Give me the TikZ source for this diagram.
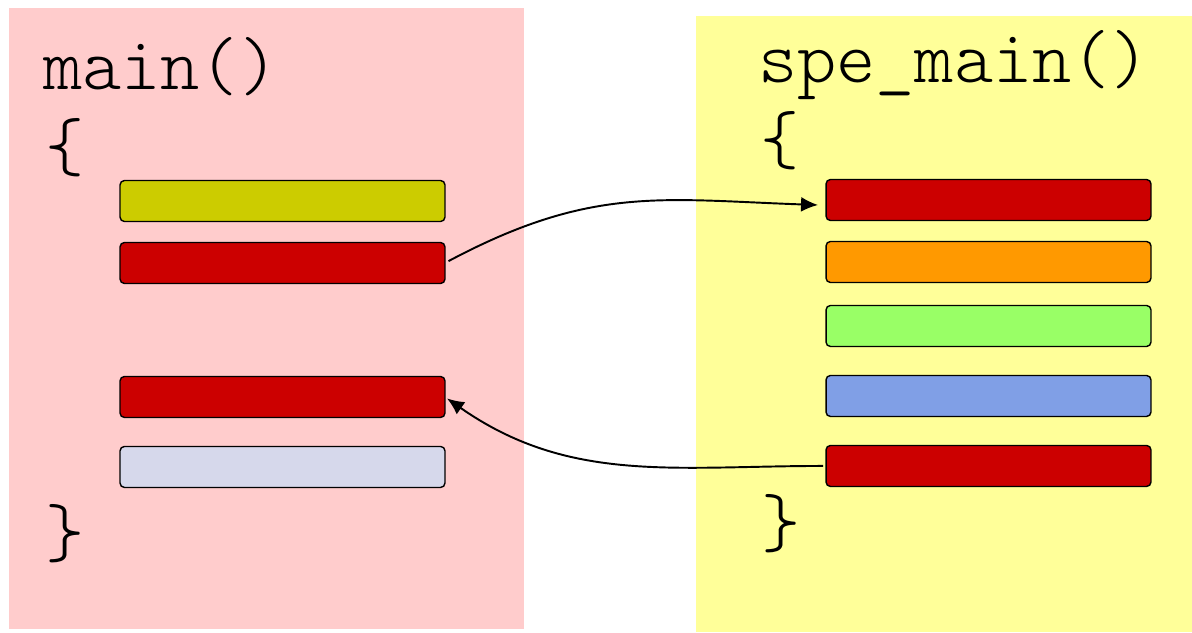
\documentclass[tikz,border=0pt]{standalone}
\usepackage{fontspec}
\setmonofont{lmmonolt10-regular.otf}
\usetikzlibrary{positioning,arrows.meta}

\definecolor{pinkbg}{RGB}{255,204,204}
\definecolor{yellowbg}{RGB}{255,255,153}
\definecolor{olive}{RGB}{204,204,0}
\definecolor{darkred}{RGB}{204,0,0}
\definecolor{lavender}{RGB}{214,216,235}
\definecolor{orange}{RGB}{255,153,0}
\definecolor{lightgreen}{RGB}{153,255,102}
\definecolor{softblue}{RGB}{128,159,230}

\begin{document}
\begin{tikzpicture}[x=0.02cm,y=-0.02cm,every node/.style={outer sep=0pt},
    code/.style={anchor=base west,inner sep=0pt,
      font=\ttfamily\fontsize{42.5}{46}\selectfont},
    block/.style={draw,line width=0.8pt,rounded corners=2.5pt,
      minimum width=6.5cm,minimum height=0.82cm,inner sep=0pt},
    call/.style={-{Latex[length=0.34cm,width=0.3cm]},line width=1.1pt}]
   \useasboundingbox (0,0) rectangle (1192,632);

   % the two functions
   \fill[pinkbg] (9,8) rectangle (524,629);
   \fill[yellowbg] (696,16) rectangle (1192,632);

   \node[code] (mainname) at (43,89) {main()};
   \node[code] (mainopen) at (45,170) {\{};
   \node[code] (mainclose) at (45,556) {\}};

   \node[code] (spename) at (758,82) {spe\_main()};
   \node[code] (speopen) at (760,163) {\{};
   \node[code] (speclose) at (761,546) {\}};

   % statements in main()
   \node[block,fill=olive] (m1) at (282.5,201) {};
   \node[block,fill=darkred,below=0.42cm of m1] (m2) {};
   \node[block,fill=darkred,below=1.86cm of m2] (m3) {};
   \node[block,fill=lavender,below=0.58cm of m3] (m4) {};

   % statements in spe_main()
   \node[block,fill=darkred] (s1) at (988.5,200) {};
   \node[block,fill=orange,below=0.42cm of s1] (s2) {};
   \node[block,fill=lightgreen,below=0.46cm of s2] (s3) {};
   \node[block,fill=softblue,below=0.58cm of s3] (s4) {};
   \node[block,fill=darkred,below=0.58cm of s4] (s5) {};

   % start and return
   \draw[call,shorten <=0.08cm,shorten >=0.16cm]
     (m2.east) to[out=28,in=178,looseness=1.1] ([yshift=-3pt]s1.west);
   \draw[call,shorten <=0.06cm,shorten >=0.05cm]
     (s5.west) to[out=180,in=-35] (m3.east);
\end{tikzpicture}
\end{document}
